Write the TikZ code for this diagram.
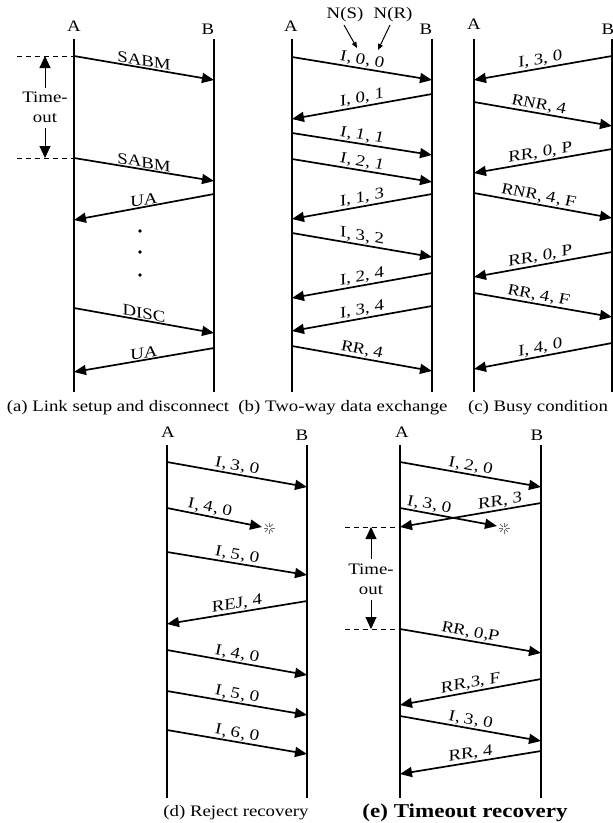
\documentclass[tikz,border=0pt]{standalone}
\usepackage{fontspec}
\setmainfont{Liberation Serif}[FakeStretch=1.175]
\usetikzlibrary{arrows.meta}
\newcommand\lblfont{\fontsize{16}{18}\selectfont}
\tikzset{
  life/.style={line width=2pt},
  msgline/.style={line width=1.7pt,-{Triangle[length=12pt,width=10pt]}},
  lbl/.style={font=\lblfont,inner sep=1pt,anchor=south},
  hdr/.style={font=\lblfont,inner sep=0pt},
  captext/.style={font=\lblfont,inner sep=0pt},
  dashline/.style={line width=0.9pt,dash pattern=on 5pt off 4pt},
  toarrow/.style={line width=1pt,-{Triangle[length=12pt,width=11pt]}},
  ptr/.style={line width=1pt,-{Triangle[length=6pt,width=5pt]}},
  lost/.style={black!55,line width=1pt}
}
% #1 x1, #2 y1, #3 x2, #4 y2, #5 label, #6 font switch, #7 pos
\newcommand\msgarrow[7]{%
  \pgfmathsetmacro\msgslope{-(#4-#2)/(#3-#1)}%
  \draw[msgline] (#1,#2) -- (#3,#4)
    node[lbl,pos=#7,yslant=\msgslope,font=\lblfont#6] {#5};%
}
\newcommand\lostmark[3]{%
  \coordinate (#1) at (#2,#3);
  \foreach \ang in {0,45,...,315}
    \draw[lost] (#1) ++(\ang:1.5pt) -- ++(\ang:4pt);%
}
\begin{document}
\begin{tikzpicture}[x=1pt,y=-1pt]
\useasboundingbox (0,0) rectangle (613,823);
\fill[white] (0,0) rectangle (613,823);

% ---------- (a) ----------
\node[hdr] (aAl) at (74,26) {A};
\node[hdr] (aBl) at (208,29) {B};
\coordinate (aAt) at (74,39); \coordinate (aAb) at (74,392);
\coordinate (aBt) at (214,39); \coordinate (aBb) at (214,392);
\draw[life] (aAt) -- (aAb);
\draw[life] (aBt) -- (aBb);
\msgarrow{74}{56}{214}{80}{SABM}{}{0.5}
\msgarrow{74}{158}{214}{181}{SABM}{}{0.5}
\msgarrow{214}{194}{74}{220}{UA}{}{0.5}
\msgarrow{74}{308}{214}{333}{DISC}{}{0.5}
\msgarrow{214}{348}{74}{372}{UA}{}{0.5}
\foreach \yy in {231,252,275} \fill (140,\yy) circle (1.8pt);
\coordinate (ad1) at (17,56); \coordinate (ad2) at (17,158);
\draw[dashline] (ad1) -- (aAt |- ad1);
\draw[dashline] (ad2) -- (aAt |- ad2);
\node[hdr] (aT1) at (45,97) {Time-};
\node[hdr] (aT2) at (45,118) {out};
\draw[toarrow] (45,88) -- (45,56);
\draw[toarrow] (45,128) -- (45,158);
\node[captext] (capa) at (118,408) {(a) Link setup and disconnect};

% ---------- (b) ----------
\node[hdr] (bAl) at (291,26) {A};
\node[hdr] (bBl) at (426,29) {B};
\coordinate (bAt) at (292,39); \coordinate (bAb) at (292,392);
\coordinate (bBt) at (432,39); \coordinate (bBb) at (432,392);
\draw[life] (bAt) -- (bAb);
\draw[life] (bBt) -- (bBb);
\node[hdr] (ns) at (345,15) {N(S)};
\node[hdr] (nr) at (393,15) {N(R)};
\draw[ptr] (344,25) -- (357,48);
\draw[ptr] (390,25) -- (378,50);
\msgarrow{292}{57}{432}{80}{I, 0, 0}{\itshape}{0.5}
\msgarrow{432}{94}{292}{119}{I, 0, 1}{}{0.5}
\msgarrow{292}{133}{432}{155}{I, 1, 1}{\itshape}{0.5}
\msgarrow{292}{159}{432}{182}{I, 2, 1}{\itshape}{0.5}
\msgarrow{432}{194}{292}{219}{I, 1, 3}{}{0.5}
\msgarrow{292}{233}{432}{257}{I, 3, 2}{}{0.5}
\msgarrow{432}{273}{292}{298}{I, 2, 4}{}{0.5}
\msgarrow{432}{306}{292}{331}{I, 3, 4}{}{0.5}
\msgarrow{292}{346}{432}{371}{RR, 4}{\itshape}{0.5}
\node[captext] (capb) at (343,408) {(b) Two-way data exchange};

% ---------- (c) ----------
\node[hdr] (cAl) at (474,24) {A};
\node[hdr] (cBl) at (608,29) {B};
\coordinate (cAt) at (474,39); \coordinate (cAb) at (474,392);
\coordinate (cBt) at (612,39); \coordinate (cBb) at (612,392);
\draw[life] (cAt) -- (cAb);
\draw[life] (cBt) -- (cBb);
\msgarrow{612}{56}{474}{80}{I, 3, 0}{}{0.52}
\msgarrow{474}{102}{612}{126}{RNR, 4}{\itshape}{0.47}
\msgarrow{612}{149}{474}{173}{RR, 0, P}{}{0.52}
\msgarrow{474}{193}{612}{218}{RNR, 4, F}{\itshape}{0.47}
\msgarrow{612}{252}{474}{277}{RR, 0, P}{}{0.52}
\msgarrow{474}{293}{612}{317}{RR, 4, F}{\itshape}{0.47}
\msgarrow{612}{343}{474}{369}{I, 4, 0}{}{0.52}
\node[captext] (capc) at (538,408) {(c) Busy condition};

% ---------- (d) ----------
\node[hdr] (dAl) at (168,432) {A};
\node[hdr] (dBl) at (302,435) {B};
\coordinate (dAt) at (167,445); \coordinate (dAb) at (167,798);
\coordinate (dBt) at (307,445); \coordinate (dBb) at (307,798);
\draw[life] (dAt) -- (dAb);
\draw[life] (dBt) -- (dBb);
\msgarrow{167}{462}{307}{487}{I, 3, 0}{\itshape}{0.5}
\msgarrow{167}{508}{262}{527}{I, 4, 0}{\itshape}{0.45}
\lostmark{dlost}{269}{528}
\msgarrow{167}{552}{307}{575}{I, 5, 0}{\itshape}{0.5}
\msgarrow{307}{601}{167}{624}{REJ, 4}{}{0.5}
\msgarrow{167}{650}{307}{675}{I, 4, 0}{\itshape}{0.5}
\msgarrow{167}{691}{307}{715}{I, 5, 0}{\itshape}{0.5}
\msgarrow{167}{730}{307}{754}{I, 6, 0}{\itshape}{0.5}
\node[captext] (capd) at (236,813) {(d) Reject recovery};

% ---------- (e) ----------
\node[hdr] (eAl) at (402,432) {A};
\node[hdr] (eBl) at (537,435) {B};
\coordinate (eAt) at (400,445); \coordinate (eAb) at (400,798);
\coordinate (eBt) at (541,445); \coordinate (eBb) at (541,798);
\draw[life] (eAt) -- (eAb);
\draw[life] (eBt) -- (eBb);
\msgarrow{400}{462}{541}{487}{I, 2, 0}{\itshape}{0.5}
\msgarrow{400}{508}{497}{526}{I, 3, 0}{\itshape}{0.3}
\lostmark{elost}{504}{528}
\msgarrow{541}{503}{400}{527}{RR, 3}{}{0.29}
\coordinate (ed1) at (345,527); \coordinate (ed2) at (345,629);
\draw[dashline] (ed1) -- (eAt |- ed1);
\draw[dashline] (ed2) -- (eAt |- ed2);
\node[hdr] (eT1) at (371,569) {Time-};
\node[hdr] (eT2) at (371,590) {out};
\draw[toarrow] (371,559) -- (371,527);
\draw[toarrow] (371,600) -- (371,629);
\msgarrow{400}{629}{541}{653}{RR, 0,P}{\itshape}{0.5}
\msgarrow{541}{679}{400}{705}{RR,3, F}{}{0.5}
\msgarrow{400}{716}{541}{741}{I, 3, 0}{\itshape}{0.5}
\msgarrow{541}{751}{400}{774}{RR, 4}{}{0.5}
\node[captext,font=\fontsize{19.6}{22}\selectfont\bfseries] (cape) at (465,813) {(e) Timeout recovery};
\end{tikzpicture}
\end{document}
